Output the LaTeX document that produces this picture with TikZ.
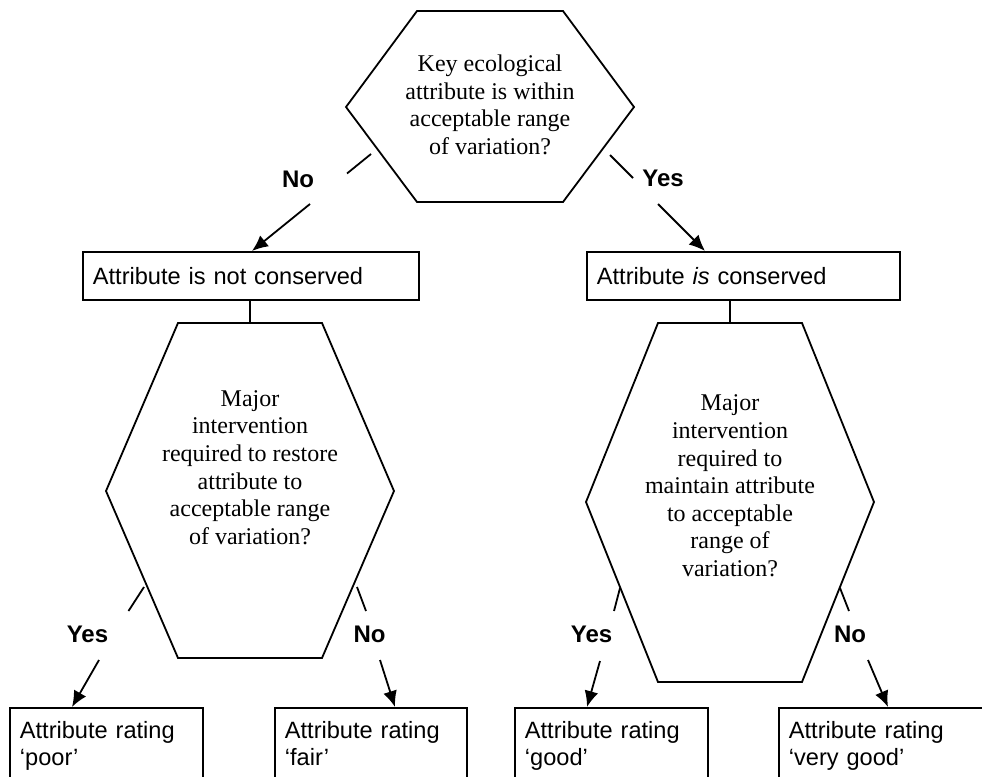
\documentclass[tikz,border=0pt]{standalone}
\usepackage{fontspec}
\setmainfont{Liberation Serif}
\newfontfamily\arialfont{Liberation Sans}
\usetikzlibrary{arrows.meta,calc}
\begin{document}
\begin{tikzpicture}[x=1pt,y=-1pt,line width=1.8pt,
  q/.style={align=center,font=\fontsize{24}{27.6}\selectfont,inner sep=0pt},
  box/.style={draw,anchor=north west,align=left,inner xsep=10pt,inner ysep=0pt,
    font=\arialfont\fontsize{23.6}{27}\selectfont},
  lab/.style={font=\arialfont\bfseries\fontsize{24}{26}\selectfont,anchor=base,inner sep=0pt},
  arr/.style={-{Latex[length=16pt,width=14pt]}},
  hex/.style={draw,line join=miter}]
\clip (0,0) rectangle (982,776);

% hexagons
\draw[hex] (417,11) -- (563,11) -- (634,107) -- (563,202) -- (417,202) -- (346,107) -- cycle;
\node[q] (q1) at (490,105) {Key ecological\\attribute is within\\acceptable range\\of variation?};

\draw[hex] (178,323) -- (322,323) -- (394,491) -- (322,658) -- (178,658) -- (106,491) -- cycle;
\node[q] (q2) at (250,467.5) {Major\\intervention\\required to restore\\attribute to\\acceptable range\\of variation?};

\draw[hex] (658,323) -- (802,323) -- (874,502) -- (802,682) -- (658,682) -- (586,502) -- cycle;
\node[q] (q3) at (730,486) {Major\\intervention\\required to\\maintain attribute\\to acceptable\\range of\\variation?};

% middle boxes
\node[box,text width=316pt,minimum height=48pt] (c1) at (82,251) {Attribute is not conserved};
\node[box,text width=293pt,minimum height=48pt] (c2) at (586,251) {Attribute \textit{is} conserved};

% bottom boxes
\node[box,text width=173pt,minimum height=80pt] (r1) at (9,707) {Attribute rating\\‘poor’\strut};
\node[box,text width=172pt,minimum height=80pt] (r2) at (274,707) {Attribute rating\\‘fair’\strut};
\node[box,text width=173pt,minimum height=80pt] (r3) at (514,707) {Attribute rating\\‘good’\strut};
\node[box,text width=200pt,minimum height=80pt] (r4) at (778,707) {Attribute rating\\‘very good’\strut};

% vertical links
\coordinate (h2top) at (250,323);
\coordinate (h3top) at (730,323);
\draw (c1.south -| h2top) -- (h2top);
\draw (c2.south -| h3top) -- (h3top);

% labels
\node[lab] (l1) at (298,187) {No};
\node[lab] (l2) at (663,186) {Yes};
\node[lab] (l3) at (87.5,642) {Yes};
\node[lab] (l4) at (369.5,642) {No};
\node[lab] (l5) at (591.5,642) {Yes};
\node[lab] (l6) at (850,642) {No};

% top No
\coordinate (a1) at (371,154); \coordinate (a2) at (347,173.5); \coordinate (a3) at (310,204);
\draw (a1) -- (a2);
\draw[arr] (a3) -- ($(c1.north west)+(170,0)$);
% top Yes
\coordinate (b1) at (610,155); \coordinate (b2) at (633,178); \coordinate (b3) at (658,204);
\draw (b1) -- (b2);
\draw[arr] (b3) -- ($(c2.north west)+(119,0)$);
% left Yes
\coordinate (d1) at (144,587); \coordinate (d2) at (128.5,611); \coordinate (d3) at (99,660);
\draw (d1) -- (d2);
\draw[arr] (d3) -- ($(r1.north west)+(63,0)$);
% left No
\coordinate (e1) at (357,587); \coordinate (e2) at (366,611); \coordinate (e3) at (380,660);
\draw (e1) -- (e2);
\draw[arr] (e3) -- ($(r2.north west)+(121,0)$);
% right Yes
\coordinate (f1) at (620,588); \coordinate (f2) at (614,611); \coordinate (f3) at (600,661);
\draw (f1) -- (f2);
\draw[arr] (f3) -- ($(r3.north west)+(73,0)$);
% right No
\coordinate (g1) at (840,588); \coordinate (g2) at (849,611); \coordinate (g3) at (868,660);
\draw (g1) -- (g2);
\draw[arr] (g3) -- ($(r4.north west)+(110,0)$);
\end{tikzpicture}
\end{document}
